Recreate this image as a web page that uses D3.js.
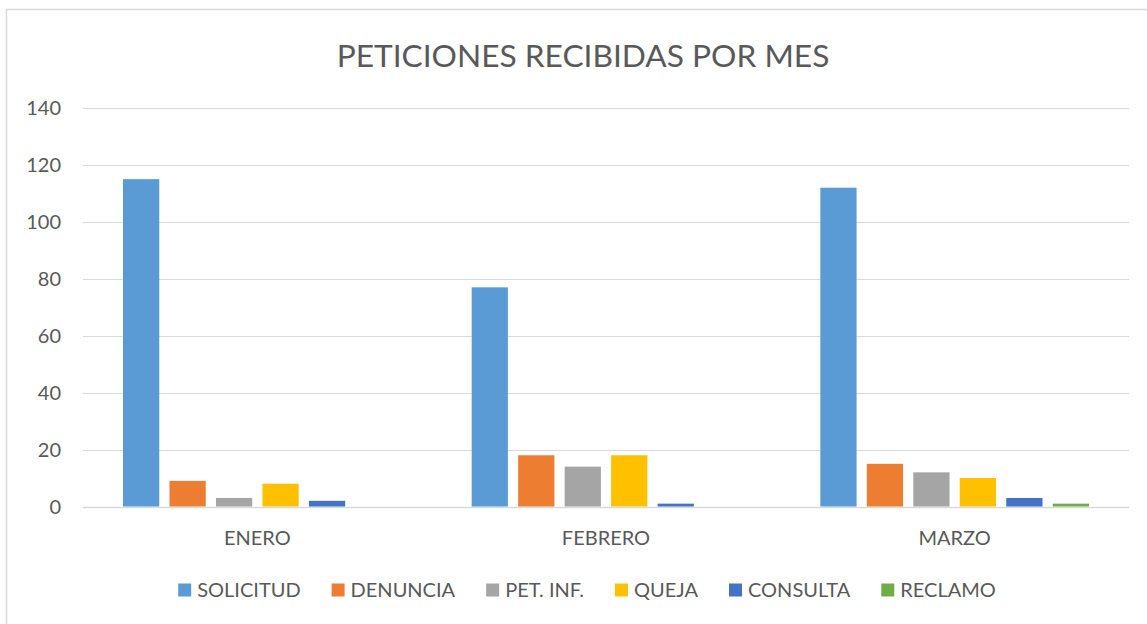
<!DOCTYPE html>
<html>
<head>
<meta charset="utf-8">
<script src="https://cdn.jsdelivr.net/npm/d3@7"></script>
<style>
  body { margin: 0; background: #fff; }
  text { font-family: Lato, "Open Sans", sans-serif; fill: #595959; }
</style>
</head>
<body>
<div id="chart"></div>
<script>
var width = 1147,
    height = 624;

// data
var months = ["ENERO", "FEBRERO", "MARZO"];
var series = ["SOLICITUD", "DENUNCIA", "PET. INF.", "QUEJA", "CONSULTA", "RECLAMO"];
var solicitud = [115, 77, 112];
var denuncia = [9, 18, 15];
var petInf = [3, 14, 12];
var queja = [8, 18, 10];
var consulta = [2, 1, 3];
var reclamo = [0, 0, 1];
var yTicks = [0, 20, 40, 60, 80, 100, 120, 140];
var colors = ["#5b9bd5", "#ed7d31", "#a5a5a5", "#ffc000", "#4472c4", "#70ad47"];

var values = [solicitud, denuncia, petInf, queja, consulta, reclamo];

var svg = d3.select("#chart")
    .append("svg")
    .attr("width", width)
    .attr("height", height);

// chart frame
svg.append("rect")
    .attr("x", 6.5)
    .attr("y", 9.5)
    .attr("width", 1160)
    .attr("height", 640)
    .attr("fill", "#fff")
    .attr("stroke", "#d9d9d9")
    .attr("stroke-width", 1.5);

var plotLeft = 83, plotRight = 1129, plotTop = 108, plotBottom = 506.5;

var y = d3.scaleLinear().domain([0, 140]).range([plotBottom, plotTop]);
var x0 = d3.scaleBand().domain(months).range([plotLeft, plotRight]);
var x1 = d3.scaleBand().domain(series)
    .range([40, x0.bandwidth() - 40])
    .paddingInner(0.22)
    .paddingOuter(0);

var color = d3.scaleOrdinal().domain(series).range(colors);

// gridlines
svg.append("g").selectAll("line")
    .data(yTicks)
    .enter().append("line")
    .attr("x1", plotLeft)
    .attr("x2", plotRight)
    .attr("y1", function(d) { return Math.round(y(d)) + 0.5; })
    .attr("y2", function(d) { return Math.round(y(d)) + 0.5; })
    .attr("stroke", "#d9d9d9")
    .attr("stroke-width", function(d) { return d === 0 ? 1.5 : 1; });

// y labels
svg.append("g").selectAll("text")
    .data(yTicks)
    .enter().append("text")
    .attr("x", 61)
    .attr("y", function(d) { return y(d); })
    .attr("dy", "0.35em")
    .attr("text-anchor", "end")
    .style("font-size", "20px")
    .text(function(d) { return d; });

// bars
var groups = svg.append("g").selectAll("g")
    .data(months)
    .enter().append("g")
    .attr("transform", function(d) { return "translate(" + x0(d) + ",0)"; });

groups.selectAll("rect")
    .data(function(m, i) {
        return series.map(function(s, j) { return { key: s, value: values[j][i] }; });
    })
    .enter().append("rect")
    .attr("x", function(d) { return x1(d.key); })
    .attr("width", x1.bandwidth())
    .attr("y", function(d) { return y(d.value); })
    .attr("height", function(d) { return plotBottom - y(d.value); })
    .attr("fill", function(d) { return color(d.key); });

// x labels
svg.append("g").selectAll("text")
    .data(months)
    .enter().append("text")
    .attr("x", function(d) { return x0(d) + x0.bandwidth() / 2; })
    .attr("y", 545)
    .attr("text-anchor", "middle")
    .style("font-size", "20px")
    .text(function(d) { return d; });

// title
svg.append("text")
    .attr("x", 583)
    .attr("y", 67)
    .attr("text-anchor", "middle")
    .style("font-size", "31.7px")
    .text("PETICIONES RECIBIDAS POR MES");

// legend
var legend = svg.append("g");
var items = legend.selectAll("g")
    .data(series)
    .enter().append("g");
items.append("rect")
    .attr("width", 13)
    .attr("height", 13)
    .attr("y", -6.5)
    .attr("fill", function(d) { return color(d); });
items.append("text")
    .attr("x", 19)
    .attr("dy", "0.35em")
    .style("font-size", "20px")
    .text(function(d) { return d; });

var gap = 31;
var pos = 0;
items.each(function() {
    var g = d3.select(this);
    var w = 19 + g.select("text").node().getComputedTextLength();
    g.attr("data-x", pos);
    pos += w + gap;
});
var total = pos - gap;
var startX = 587 - total / 2;
items.attr("transform", function() {
    return "translate(" + (startX + (+this.getAttribute("data-x"))) + ",590)";
});
</script>
</body>
</html>
